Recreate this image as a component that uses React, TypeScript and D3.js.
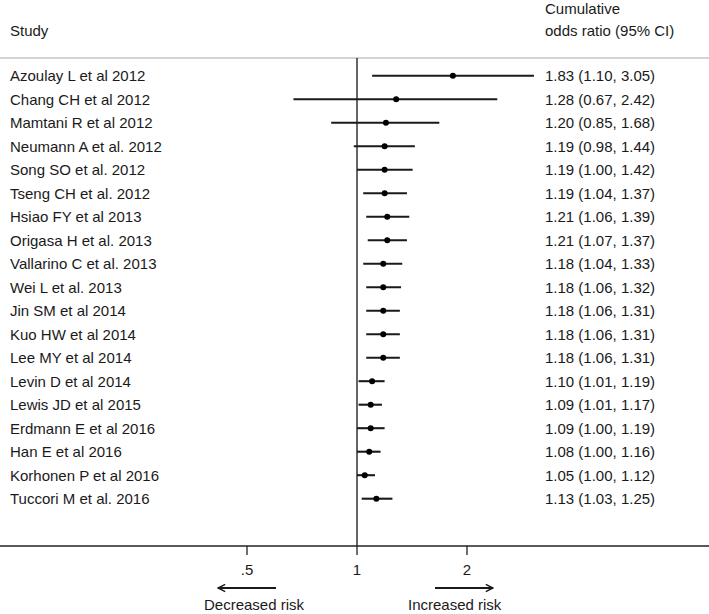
import React from "react";
import * as d3 from "d3";

const studies = [
  "Azoulay L et al 2012",
  "Chang CH et al 2012",
  "Mamtani R et al 2012",
  "Neumann A et al. 2012",
  "Song SO et al. 2012",
  "Tseng CH et al. 2012",
  "Hsiao FY et al 2013",
  "Origasa H et al. 2013",
  "Vallarino C et al. 2013",
  "Wei L et al. 2013",
  "Jin SM et al 2014",
  "Kuo HW et al 2014",
  "Lee MY et al 2014",
  "Levin D et al 2014",
  "Lewis JD et al 2015",
  "Erdmann E et al 2016",
  "Han E et al 2016",
  "Korhonen P et al 2016",
  "Tuccori M et al. 2016",
];
const orValues = [1.83, 1.28, 1.2, 1.19, 1.19, 1.19, 1.21, 1.21, 1.18, 1.18, 1.18, 1.18, 1.18, 1.1, 1.09, 1.09, 1.08, 1.05, 1.13];
const lowerCI = [1.1, 0.67, 0.85, 0.98, 1.0, 1.04, 1.06, 1.07, 1.04, 1.06, 1.06, 1.06, 1.06, 1.01, 1.01, 1.0, 1.0, 1.0, 1.03];
const upperCI = [3.05, 2.42, 1.68, 1.44, 1.42, 1.37, 1.39, 1.37, 1.33, 1.32, 1.31, 1.31, 1.31, 1.19, 1.17, 1.19, 1.16, 1.12, 1.25];
const tickValues = [0.5, 1, 2];
const tickLabels = [".5", "1", "2"];

const W = 709;
const H = 614;
const FONT = "'Liberation Sans', Arial, Helvetica, sans-serif";
const INK = "#1a1a1a";

export default function App() {
  const x = d3.scaleLog().domain([0.5, 2]).range([247, 467]);
  const y = d3
    .scaleLinear()
    .domain([0, studies.length - 1])
    .range([75.7, 498.7]);
  const fmt = d3.format(".2f");
  const axisY = 546;
  const headerY = 58;
  const rightX = 545;

  return (
    <svg
      width={W}
      height={H}
      style={{ position: "fixed", left: 0, top: 0, background: "#fff" }}
      fontFamily={FONT}
      fontSize={15}
    >
      <rect width={W} height={H} fill="#fff" />
      <defs>
        <marker id="ah" viewBox="0 0 10 10" refX="9" refY="5" markerWidth="9" markerHeight="9" markerUnits="userSpaceOnUse" orient="auto">
          <path d="M1,1 L9,5 L1,9" fill="none" stroke={INK} strokeWidth={1.6} />
        </marker>
      </defs>
      {/* header */}
      <text x={10} y={36} fill={INK}>Study</text>
      <text x={rightX} y={14} fill={INK}>Cumulative</text>
      <text x={rightX} y={36} fill={INK}>odds ratio (95% CI)</text>
      <line x1={0} x2={W} y1={headerY} y2={headerY} stroke="#a8a8a8" strokeWidth={1.2} />
      {/* null line */}
      <line x1={x(1)} x2={x(1)} y1={headerY} y2={axisY} stroke="#333" strokeWidth={1.5} />
      {/* rows */}
      {studies.map((s, i) => (
        <g key={s}>
          <text x={10} y={y(i) + 5.5} fill={INK}>{s}</text>
          <line x1={x(lowerCI[i])} x2={x(upperCI[i])} y1={y(i)} y2={y(i)} stroke={INK} strokeWidth={2.1} />
          <circle cx={x(orValues[i])} cy={y(i)} r={3} fill="#000" />
          <text x={rightX} y={y(i) + 5.5} fill={INK}>
            {`${fmt(orValues[i])} (${fmt(lowerCI[i])}, ${fmt(upperCI[i])})`}
          </text>
        </g>
      ))}
      {/* axis */}
      <line x1={0} x2={W} y1={axisY} y2={axisY} stroke="#222" strokeWidth={1.4} />
      {tickValues.map((t, i) => (
        <g key={t}>
          <line x1={x(t)} x2={x(t)} y1={axisY} y2={axisY + 9} stroke="#222" strokeWidth={1.3} />
          <text x={x(t)} y={575} textAnchor="middle" fill={INK}>{tickLabels[i]}</text>
        </g>
      ))}
      {/* arrows */}
      <line x1={276} x2={218} y1={588} y2={588} stroke={INK} strokeWidth={1.8} markerEnd="url(#ah)" />
      <line x1={435} x2={493} y1={588} y2={588} stroke={INK} strokeWidth={1.8} markerEnd="url(#ah)" />
      <text x={204} y={610} fill={INK}>Decreased risk</text>
      <text x={408} y={610} fill={INK}>Increased risk</text>
    </svg>
  );
}
